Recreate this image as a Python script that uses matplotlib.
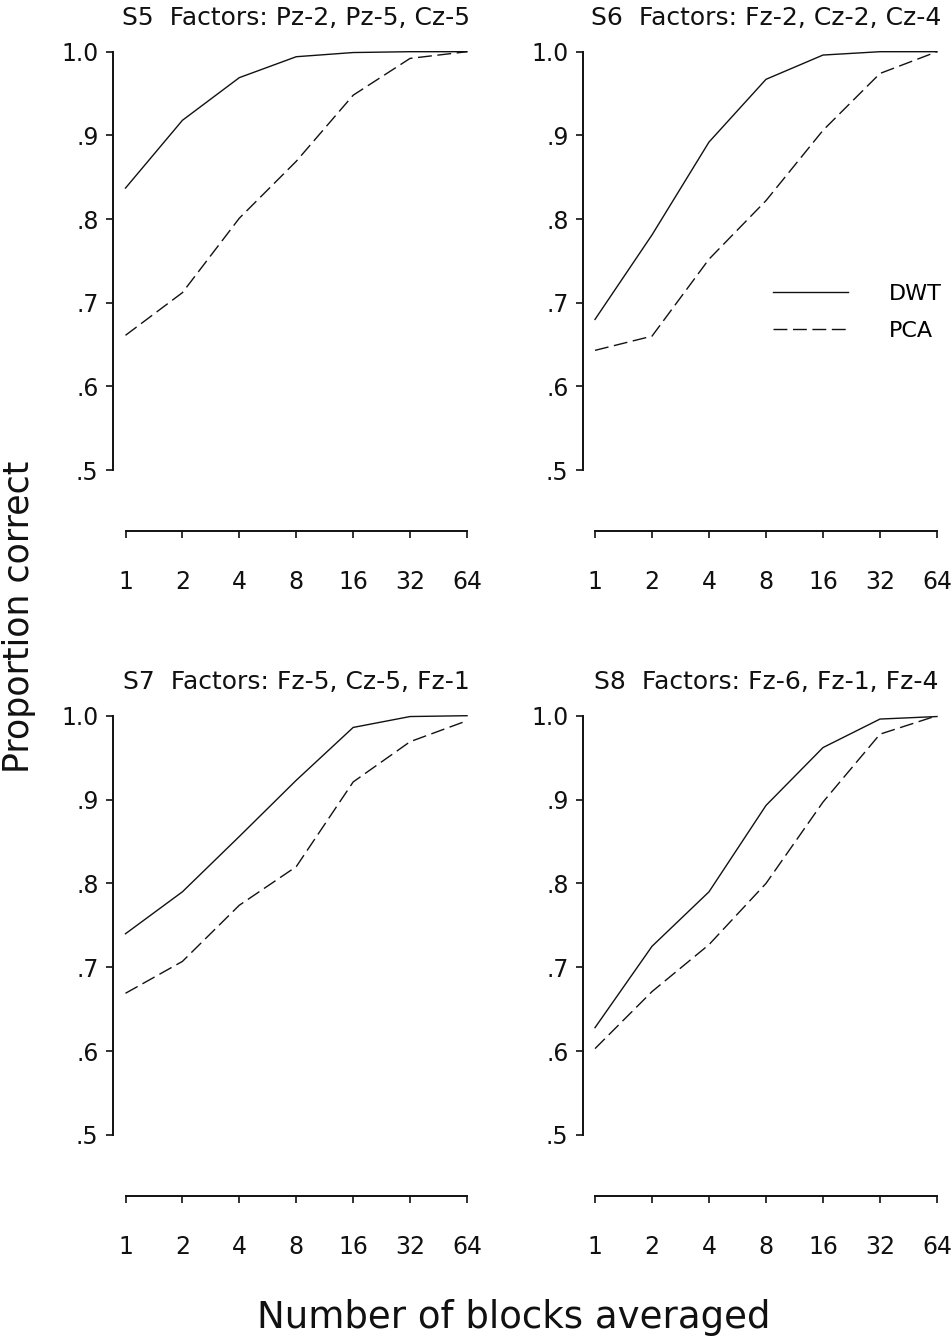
import matplotlib
matplotlib.use("Agg")
import matplotlib.pyplot as plt
import numpy as np

# Blocks averaged (x) and proportion correct for each subject
blocks = [1, 2, 4, 8, 16, 32, 64]

s5_dwt = [0.837, 0.918, 0.969, 0.994, 0.999, 1.000, 1.000]
s5_pca = [0.661, 0.712, 0.801, 0.869, 0.948, 0.992, 1.000]
s6_dwt = [0.680, 0.781, 0.892, 0.967, 0.996, 1.000, 1.000]
s6_pca = [0.643, 0.660, 0.752, 0.822, 0.906, 0.974, 1.000]
s7_dwt = [0.740, 0.790, 0.856, 0.923, 0.986, 0.999, 1.000]
s7_pca = [0.669, 0.707, 0.774, 0.820, 0.921, 0.969, 0.994]
s8_dwt = [0.628, 0.725, 0.790, 0.893, 0.962, 0.996, 0.999]
s8_pca = [0.603, 0.671, 0.727, 0.800, 0.897, 0.978, 1.000]

titles = ["S5  Factors: Pz-2, Pz-5, Cz-5",
          "S6  Factors: Fz-2, Cz-2, Cz-4",
          "S7  Factors: Fz-5, Cz-5, Fz-1",
          "S8  Factors: Fz-6, Fz-1, Fz-4"]
dwt_series = [s5_dwt, s6_dwt, s7_dwt, s8_dwt]
pca_series = [s5_pca, s6_pca, s7_pca, s8_pca]

y_ticks = [0.5, 0.6, 0.7, 0.8, 0.9, 1.0]
y_ticklabels = [".5", ".6", ".7", ".8", ".9", "1.0"]

W, H = 951, 1341
plt.rcParams['font.family'] = 'DejaVu Sans'
fig = plt.figure(figsize=(W / 100, H / 100), dpi=100)

ink = "#111111"
dash = (0, (10, 4))

# panel geometry in pixels: y-axis spine x, first/last tick x, top (1.0) y, bottom (.5) y
panels = [(112.5, 125.5, 467.0, 51.7, 470.0),
          (582.5, 595.0, 937.0, 51.7, 470.0),
          (112.5, 125.5, 467.0, 715.7, 1135.0),
          (582.5, 595.0, 937.0, 715.7, 1135.0)]

for i, (sx, x0, x1, ytop, ybot) in enumerate(panels):
    gap = x0 - sx
    right = x1 + gap
    ax = fig.add_axes([sx / W, 1 - ybot / H, (right - sx) / W, (ybot - ytop) / H])
    per = (x1 - x0) / 6.0

    ax.plot(blocks, dwt_series[i], color=ink, lw=1.0, clip_on=False, label="DWT")
    ax.plot(blocks, pca_series[i], color=ink, lw=1.0, ls=dash, clip_on=False, label="PCA")

    ax.set_xscale('log', base=2)
    ax.set_xlim(2 ** (-gap / per), 2 ** (6 + gap / per))
    ax.set_ylim(0.5, 1.0)
    ax.set_xticks(blocks)
    ax.set_xticklabels([str(b) for b in blocks])
    ax.xaxis.set_minor_locator(matplotlib.ticker.NullLocator())
    ax.set_yticks(y_ticks)
    ax.set_yticklabels(y_ticklabels)

    for side in ['top', 'right']:
        ax.spines[side].set_visible(False)
    ax.spines['left'].set_bounds(0.5, 1.0)
    ax.spines['bottom'].set_bounds(1, 64)
    ax.spines['bottom'].set_position(('outward', 61 * 0.72))
    for side in ['left', 'bottom']:
        ax.spines[side].set_linewidth(1.4)
        ax.spines[side].set_color(ink)

    ax.tick_params(axis='x', direction='out', length=5, width=1.2, pad=23,
                   labelsize=17, colors=ink)
    ax.tick_params(axis='y', direction='out', length=5, width=1.2, pad=5,
                   labelsize=17, colors=ink)

    # title sits over the middle of the x range
    fig.text(((x0 + x1) / 2) / W, 1 - (ytop - 26.7) / H, titles[i],
             ha='center', va='baseline', fontsize=18, color=ink)

    if i == 1:
        ax.legend(loc='upper left', bbox_to_anchor=(772.7 / W, 1 - 284 / H),
                  bbox_transform=fig.transFigure, frameon=False, fontsize=16,
                  handlelength=3.4, handletextpad=1.85, labelspacing=0.75,
                  borderpad=0, borderaxespad=0)

fig.text(19 / W, 1 - 617 / H, "Proportion correct", rotation=90,
         ha='center', va='center', fontsize=25, color=ink)
fig.text(514 / W, 1 - 1328 / H, "Number of blocks averaged",
         ha='center', va='baseline', fontsize=26.7, color=ink)

fig.savefig("out.png", dpi=100)
